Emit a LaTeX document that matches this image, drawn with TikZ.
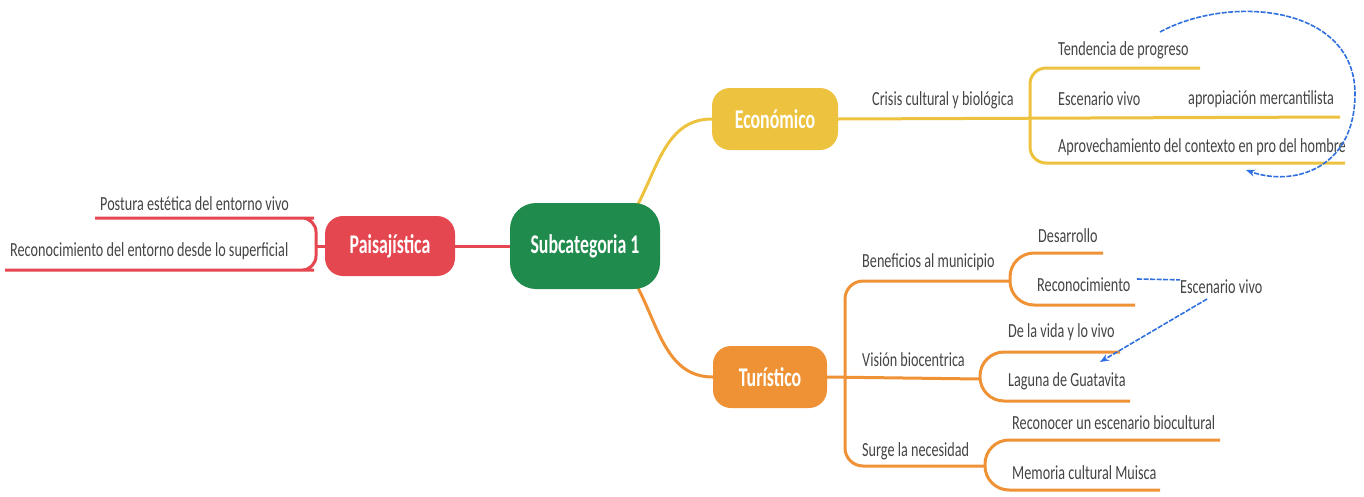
\documentclass[tikz,border=0pt]{standalone}
\usepackage{fontspec}
\usepackage{graphicx}
\setmainfont{Carlito}
\usetikzlibrary{arrows.meta}
\pgfdeclarelayer{bg}
\pgfsetlayers{bg,main}
\definecolor{cgreen}{HTML}{1F8B4C}
\definecolor{cred}{HTML}{E4474F}
\definecolor{cyellow}{HTML}{EDC23E}
\definecolor{corange}{HTML}{EF9236}
\definecolor{cblue}{HTML}{2F6FE0}
\definecolor{ctext}{HTML}{444444}
\newcommand\smalltxt[1]{\scalebox{0.71}[1]{\fontsize{20}{22}\selectfont #1}}
\newcommand\bigtxt[1]{\scalebox{0.66}[1]{\fontsize{27}{30}\selectfont\bfseries #1}}
\tikzset{
  topic/.style={rounded corners=18pt, inner sep=0pt, text=white},
  lbl/.style={anchor=west, inner sep=0pt, text=ctext},
  redline/.style={draw=cred, line width=3pt},
  yline/.style={draw=cyellow, line width=3pt},
  oline/.style={draw=corange, line width=3pt},
  bluedash/.style={draw=cblue, line width=1.6pt, dash pattern=on 5pt off 1.5pt},
}
\begin{document}
\begin{tikzpicture}[x=1pt,y=-1pt]
\useasboundingbox (0,0) rectangle (1364,496);
% main nodes
\node[topic, fill=cgreen, minimum width=150pt, minimum height=86pt, rounded corners=26pt] (sub) at (585,246) {\bigtxt{Subcategoria 1}};
\node[topic, fill=cred, minimum width=130pt, minimum height=60pt] (pai) at (390,246) {\bigtxt{Paisajística}};
\node[topic, fill=cyellow, minimum width=126pt, minimum height=62pt] (eco) at (775,119) {\bigtxt{Económico}};
\node[topic, fill=corange, minimum width=114pt, minimum height=62pt] (tur) at (770,377) {\bigtxt{Turístico}};
% coordinates
\coordinate (pj) at (316,246);
\coordinate (pa) at (95,218);
\coordinate (pb) at (5,270);
\coordinate (ecoA) at (1200,68);
\coordinate (ecoB) at (1340,117);
\coordinate (ecoC) at (1345,163);
\coordinate (bj) at (1010,281);
\coordinate (vj) at (980,379);
\coordinate (sj) at (985,466);
\coordinate (subNE) at (637,206);
\coordinate (subSE) at (637,286);
% connectors
\begin{pgfonlayer}{bg}
\draw[redline] (sub.west) -- (pai.east);
\draw[redline, rounded corners=14pt] (pa) -- (300,218) -- (316,218) -- (316,270) -- (300,270) -- (pb);
\draw[redline] (pai.west) -- (pj);
\draw[yline] (subNE) to[out=62,in=180] (eco.west);
\draw[yline] (eco.east) -- (ecoB);
\draw[yline, rounded corners=16pt] (ecoA) -- (1030,68) -- (1030,163) -- (ecoC);
\draw[oline] (subSE) to[out=-62,in=180] (tur.west);
\draw[oline] (tur.east) -- (vj);
\draw[oline, rounded corners=18pt] (bj) -- (845,281) -- (845,466) -- (sj);
\draw[oline, rounded corners=24pt] (1103,253) -- (1010,253) -- (1010,305) -- (1135,305);
\draw[oline, rounded corners=24pt] (1120,352) -- (980,352) -- (980,401) -- (1130,401);
\draw[oline, rounded corners=24pt] (1220,440) -- (985,440) -- (985,490) -- (1160,490);
\end{pgfonlayer}
% labels
\node[lbl] (t1) at (100,204) {\smalltxt{Postura estética del entorno vivo}};
\node[lbl] (t2) at (10,251) {\smalltxt{Reconocimiento del entorno desde lo superficial}};
\node[lbl] (t3) at (872,100) {\smalltxt{Crisis cultural y biológica}};
\node[lbl] (t4) at (1058,50) {\smalltxt{Tendencia de progreso}};
\node[lbl] (t5) at (1058,99) {\smalltxt{Escenario vivo}};
\node[lbl] (t6) at (1188,99) {\smalltxt{apropiación mercantilista}};
\node[lbl] (t7) at (1058,147) {\smalltxt{Aprovechamiento del contexto en pro del hombre}};
\node[lbl] (t8) at (862,262) {\smalltxt{Beneficios al municipio}};
\node[lbl] (t9) at (1038,236) {\smalltxt{Desarrollo}};
\node[lbl] (t10) at (1037,285) {\smalltxt{Reconocimiento}};
\node[lbl] (t11) at (1180,287) {\smalltxt{Escenario vivo}};
\node[lbl] (t12) at (862,360) {\smalltxt{Visión biocentrica}};
\node[lbl] (t13) at (1008,332) {\smalltxt{De la vida y lo vivo}};
\node[lbl] (t14) at (1008,381) {\smalltxt{Laguna de Guatavita}};
\node[lbl] (t15) at (862,451) {\smalltxt{Surge la necesidad}};
\node[lbl] (t16) at (1012,423) {\smalltxt{Reconocer un escenario biocultural}};
\node[lbl] (t17) at (1012,473) {\smalltxt{Memoria cultural Muisca}};
% blue annotations
\coordinate (b1s) at (1160,32);
\coordinate (b1e) at (1246,170);
\draw[bluedash, -{Stealth[length=9pt,width=7pt]}] (b1s) .. controls (1230,-6) and (1356,5) .. (1355,95) .. controls (1354,172) and (1290,186) .. (b1e);
\coordinate (b2s) at (1137,279);
\draw[bluedash] (b2s) -- (t11.north west);
\coordinate (b3s) at (1207,299);
\coordinate (b3e) at (1100,362);
\draw[bluedash, -{Stealth[length=9pt,width=7pt]}] (b3s) -- (b3e);
\end{tikzpicture}
\end{document}
